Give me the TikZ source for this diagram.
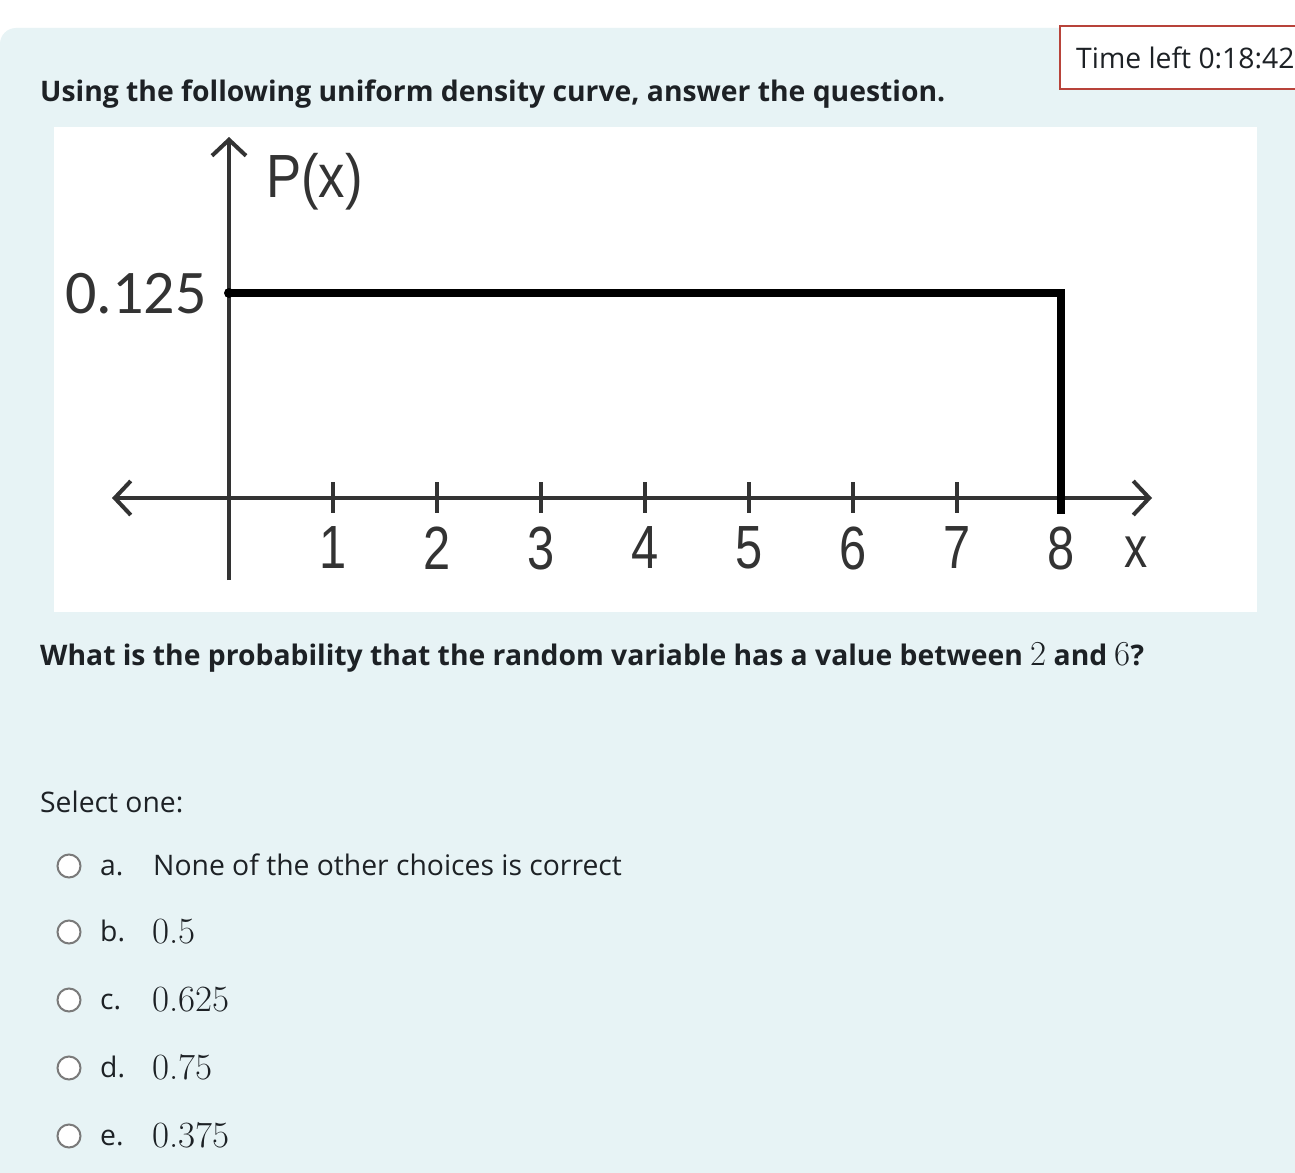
\documentclass[tikz,border=0pt]{standalone}
\usepackage{fontspec}
\usetikzlibrary{arrows.meta}
\newfontfamily\uifont{Open Sans}
\newfontfamily\plotfont{Liberation Sans}
\newfontfamily\valfont{Carlito}
\definecolor{panel}{HTML}{E7F3F5}
\definecolor{ink}{HTML}{1D2125}
\definecolor{timerred}{HTML}{B8433A}
\definecolor{axisgray}{HTML}{333333}
\definecolor{radiogray}{HTML}{7A7A7A}
\tikzset{
	txt/.style={anchor=base west, inner sep=0pt, text=ink},
	boldtxt/.style={txt, font=\uifont\bfseries\fontsize{28.3}{34}\selectfont},
	normtxt/.style={txt, font=\uifont\fontsize{28.3}{34}\selectfont},
	lmtxt/.style={txt, font=\rmfamily\fontsize{37}{44}\selectfont},
	plottxt/.style={inner sep=0pt, text=axisgray, xscale=0.8, font=\plotfont\fontsize{61}{61}\selectfont},
	axisline/.style={axisgray, line width=4pt},
	barb/.tip={Straight Barb[length=16pt, width=34pt]},
	radiobtn/.style={circle, draw=radiogray, line width=2pt, fill=white, minimum size=23pt, inner sep=0pt}
}
\begin{document}
\begin{tikzpicture}[x=1pt, y=-1pt]
	\useasboundingbox (0,0) rectangle (1295,1172);
	\fill[white] (0,0) rectangle (1295,1172);
	\fill[panel, rounded corners=16pt] (0,28) rectangle (1330,1210);
	% timer
	\draw[timerred, line width=2pt, fill=white] (1060,26) rectangle (1320,89);
	\node[normtxt] (timer) at (1076,69) {Time left 0:18:42};
	\node[boldtxt] (title) at (40,101) {Using the following uniform density curve, answer the question.};
	% graph
	\fill[white] (54,127) rectangle (1257,612);
	\draw[axisline, -barb] (229,580) -- (229,137);
	\draw[axisline, barb-barb] (112,498) -- (1152,498);
	\foreach \k in {1,...,8} {
		\draw[axisline] ({229+104*\k},482) -- ({229+104*\k},513);
		\node[plottxt] (tick\k) at ({229+104*\k},548) {\k};
	}
	\node[plottxt, scale=0.95] (xlab) at (1136,552) {x};
	\node[plottxt, xscale=1.08, anchor=west] (plab) at (266,182) {P(x)};
	\node[inner sep=0pt, anchor=east, text=axisgray, font=\valfont\fontsize{62}{62}\selectfont] (ylab) at (207,294) {0.125};
	\draw[black, line width=8pt, line join=miter] (229,293) -- (1061,293) -- (1061,514);
	\fill[black] (229,293) circle (5);
	% question
	\node[boldtxt] (question) at (40,665) {What is the probability that the random variable has a value between {\rmfamily\mdseries\fontsize{35}{40}\selectfont 2} and {\rmfamily\mdseries\fontsize{35}{40}\selectfont 6}?};
	\node[normtxt] (select) at (40,812) {Select one:};
	\foreach \l/\yy in {a/866, b/932, c/1000, d/1068, e/1136} {
		\node[radiobtn] (radio\l) at (69,\yy) {};
		\node[normtxt] (letter\l) at (100,\yy+9) {\l.};
	}
	\node[normtxt] (opta) at (153,875) {None of the other choices is correct};
	\node[lmtxt] (optb) at (152,943) {0.5};
	\node[lmtxt] (optc) at (152,1011) {0.625};
	\node[lmtxt] (optd) at (152,1079) {0.75};
	\node[lmtxt] (opte) at (152,1147) {0.375};
\end{tikzpicture}
\end{document}
